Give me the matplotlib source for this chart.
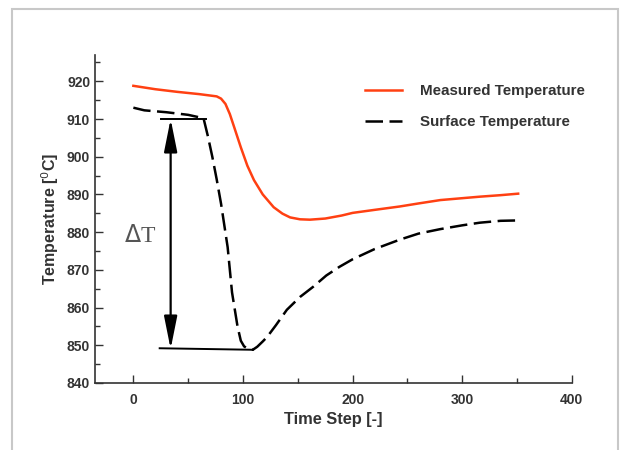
import matplotlib.pyplot as plt
from matplotlib.patches import Rectangle
from matplotlib.ticker import MultipleLocator

# measured temperature
meas_t = [0, 20, 40, 60, 76, 80, 84, 88, 92, 98, 104, 110, 118, 128, 136, 143, 152, 161, 175, 190,
          200, 220, 243, 260, 280, 300, 316, 335, 351]
meas_T = [918.8, 917.9, 917.2, 916.6, 916.0, 915.4, 914.0, 911.3, 907.8, 902.5, 897.6, 893.8, 890.0,
          886.6, 884.9, 883.9, 883.4, 883.3, 883.6, 884.4, 885.1, 885.9, 886.8, 887.6, 888.5,
          889.0, 889.4, 889.8, 890.2]

# surface temperature
surf_t = [0, 10, 30, 50, 64, 68, 72, 76, 80, 86, 90, 95, 98, 101, 105, 109, 113, 118, 122, 130,
          140, 152, 164, 176, 188, 200, 220, 243, 260, 280, 300, 316, 335, 351]
surf_T = [913.0, 912.3, 911.8, 911.1, 910.2, 905.4, 900.0, 894.0, 887.5, 876.0, 864.0, 855.0, 851.2,
          849.7, 849.0, 848.8, 849.6, 851.0, 852.2, 855.3, 859.4, 862.8, 865.5, 868.5, 870.8,
          872.8, 875.5, 878.0, 879.6, 880.8, 881.8, 882.5, 883.0, 883.1]

# delta T marker
dT_x = 34
dT_top = 910.0
dT_bot = 849.0
top_line_x = [25, 66]
top_line_T = [910.0, 910.0]
bot_line_x = [24, 109]
bot_line_T = [849.2, 848.8]

plt.rcParams['font.family'] = ['Liberation Sans', 'DejaVu Sans']

fig = plt.figure(figsize=(6.25, 4.5), dpi=100)
ax = fig.add_axes([0.152, 0.149, 0.763, 0.729])

ax.plot(meas_t, meas_T, color='#ff4012', lw=1.8, label='Measured Temperature')
ax.plot(surf_t, surf_T, color='black', lw=1.8, dashes=(7, 2.6), label='Surface Temperature')

ax.plot(top_line_x, top_line_T, color='black', lw=1.4)
ax.plot(bot_line_x, bot_line_T, color='black', lw=1.4)
ax.annotate('', xy=(dT_x, dT_bot), xytext=(dT_x, dT_top),
            arrowprops=dict(arrowstyle='<|-|>,head_length=1.0,head_width=0.2',
                            mutation_scale=20, color='black', lw=1.6,
                            shrinkA=0, shrinkB=0))
ax.text(6, 879, r'$\Delta$T', family='Liberation Serif', fontsize=17, color='#555555',
        ha='center', va='center')

ax.set_xlim(-35, 400)
ax.set_ylim(840, 927)
ax.xaxis.set_major_locator(MultipleLocator(100))
ax.xaxis.set_minor_locator(MultipleLocator(50))
ax.yaxis.set_major_locator(MultipleLocator(10))
ax.yaxis.set_minor_locator(MultipleLocator(5))
ax.tick_params(which='both', direction='in', colors='#333333', labelsize=10, width=1)
ax.tick_params(which='major', length=6)
ax.tick_params(which='minor', length=3.5)
ax.tick_params(axis='x', pad=7)
for lab in ax.get_xticklabels() + ax.get_yticklabels():
    lab.set_fontweight('bold')
for s in ['top', 'right']:
    ax.spines[s].set_visible(False)
for s in ['left', 'bottom']:
    ax.spines[s].set_color('#333333')
    ax.spines[s].set_linewidth(1.2)

ax.set_xlabel('Time Step [-]', fontsize=11.8, fontweight='bold', color='#333333')
ax.set_ylabel('Temperature [$^0$C]', fontsize=11.5, fontweight='bold', color='#333333')

ax.legend(loc='upper left', bbox_to_anchor=(0.538, 0.953), frameon=False,
          prop={'weight': 'bold', 'size': 10.9}, labelcolor='#333333',
          handlelength=2.45, handletextpad=1.2, labelspacing=1.15)

fig.patches.append(Rectangle((12 / 625, -0.02), 606 / 625, 1.0, transform=fig.transFigure,
                             fill=False, edgecolor='#c8c8c8', lw=1.5))

fig.savefig('out.png', dpi=100)
